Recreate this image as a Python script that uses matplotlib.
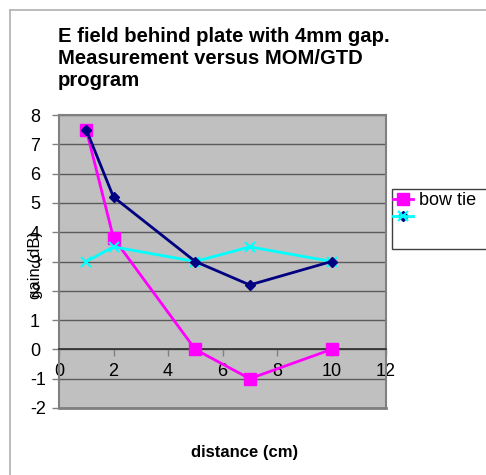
import matplotlib.pyplot as plt
from matplotlib.lines import Line2D
from matplotlib.patches import Rectangle

plt.rcParams['font.family'] = ['Liberation Sans', 'DejaVu Sans']
plt.rcParams['axes.unicode_minus'] = False

# measurement data, gain in dB at each distance
distance = [1, 2, 5, 7, 10]
bow_tie = [7.5, 3.8, 0, -1, 0]
series_b = [7.5, 5.2, 3, 2.2, 3]
series_c = [3, 3.5, 3, 3.5, 3]

x_ticks = [0, 2, 4, 6, 8, 10, 12]
y_ticks = list(range(-2, 9))

fig = plt.figure(figsize=(4.86, 4.75), dpi=100)
ax = fig.add_axes([59 / 486, 1 - 408 / 475, 327 / 486, 293 / 475])
ax.set_facecolor('#c0c0c0')

ax.plot(distance, bow_tie, color='#ff00ff', lw=2, marker='s', ms=8, zorder=3)
ax.plot(distance, series_b, color='#000080', lw=2, marker='D', ms=5, zorder=4)
ax.plot(distance, series_c, color='#00ffff', lw=2, marker='x', ms=7, mew=1.5, zorder=3)

ax.set_xlim(0, 12)
ax.set_ylim(-2, 8)
ax.set_xticks(x_ticks)
ax.set_yticks(y_ticks)
ax.tick_params(labelsize=13, length=5, color='#808080', width=1)
ax.tick_params(axis='x', pad=4.5)
ax.tick_params(axis='y', pad=15.8)
for lbl in ax.get_yticklabels():
    lbl.set_horizontalalignment('left')

for y in y_ticks:
    ax.axhline(y, color='#5a5a5a', lw=1, zorder=1)

for side in ['top', 'left', 'right']:
    ax.spines[side].set_color('#808080')
    ax.spines[side].set_linewidth(1.5)
ax.spines['bottom'].set_position(('data', 0))
ax.spines['bottom'].set_color('#303030')
ax.spines['bottom'].set_linewidth(1.2)
ax.axhline(-2, color='#808080', lw=2, clip_on=False, zorder=2)

fig.text(35 / 486, 1 - 265 / 475, 'gain (dB)', rotation=90, ha='center',
         va='center', fontsize=12)

fig.text(245 / 486, 1 - 453 / 475, 'distance (cm)', ha='center', va='center',
         fontsize=12, fontweight='bold')

fig.text(58 / 486, 1 - 27 / 475,
         'E field behind plate with 4mm gap.\nMeasurement versus MOM/GTD\nprogram',
         ha='left', va='top', fontsize=14.6, fontweight='bold', linespacing=1.2)

# outer chart frame (top and left edges)
fig.add_artist(Line2D([10 / 486, 1], [1 - 10 / 475] * 2, color='#b0b0b0', lw=1.2))
fig.add_artist(Line2D([10 / 486] * 2, [0, 1 - 10 / 475], color='#b0b0b0', lw=1.2))

# legend box
fig.add_artist(Rectangle((392 / 486, 1 - 249 / 475), 100 / 486, 60 / 475,
                         facecolor='white', edgecolor='#404040', lw=1,
                         transform=fig.transFigure))
h1 = Line2D([], [], color='#ff00ff', lw=2, marker='s', ms=8)
h2 = Line2D([], [], color='#000080', lw=0, marker='D', ms=5)
h3 = Line2D([], [], color='#00ffff', lw=2, marker='x', ms=7, mew=1.5)
fig.legend([h1, (h2, h3)], ['bow tie', ''], loc='upper left',
           bbox_to_anchor=(393 / 486, 1 - 192 / 475), frameon=False,
           fontsize=13, handlelength=1.1, handletextpad=0.33,
           labelspacing=0.0, borderpad=0, borderaxespad=0)

fig.savefig('out.png', dpi=100)
